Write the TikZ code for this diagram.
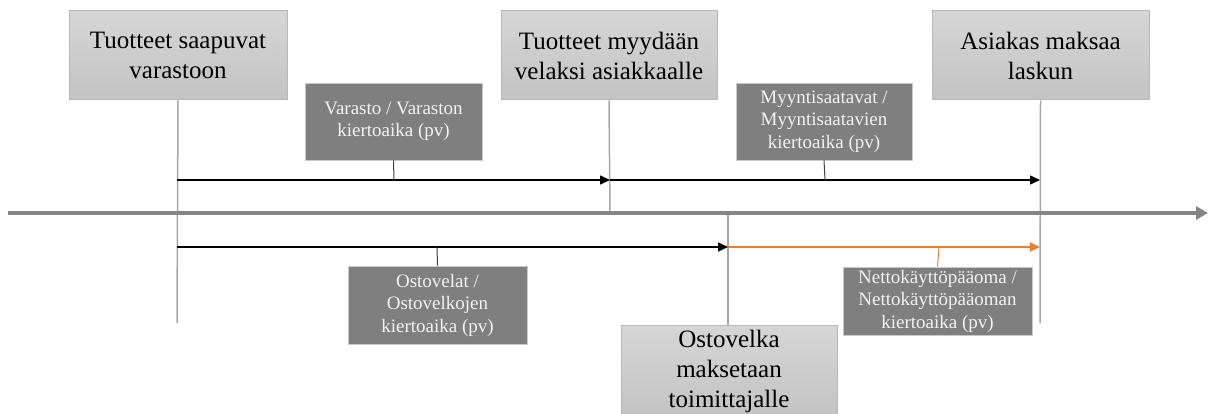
\documentclass[tikz,border=0pt]{standalone}
\usepackage{fontspec}
\setmainfont{Liberation Serif}
\usetikzlibrary{arrows.meta}
\definecolor{boxtop}{HTML}{D6D6D6}
\definecolor{boxbot}{HTML}{C3C3C3}
\definecolor{boxedge}{HTML}{B8B8B8}
\definecolor{darkbox}{HTML}{7F7F7F}
\definecolor{darkedge}{HTML}{C8C8C8}
\definecolor{vline}{HTML}{A6A6A6}
\definecolor{axisgray}{HTML}{858585}
\definecolor{orng}{HTML}{ED7D31}
\definecolor{lighttext}{HTML}{F2F2F2}
\tikzset{
  eventbox/.style={draw=boxedge, line width=1pt, top color=boxtop, bottom color=boxbot,
    inner sep=0pt, align=center, font=\fontsize{25}{30}\selectfont, text=black},
  ratiobox/.style={draw=darkedge, line width=0.8pt, fill=darkbox,
    inner sep=0pt, align=center, font=\fontsize{19}{22.5}\selectfont, text=lighttext},
  guide/.style={draw=vline, line width=1.5pt},
  period/.style={draw=black, line width=1.5pt, -{Triangle[length=10pt,width=9pt]}},
  periodorange/.style={draw=orng, line width=2.2pt, -{Triangle[length=10pt,width=9pt]}},
  tick/.style={draw=black!75, line width=1pt},
  tickorange/.style={draw=orng, line width=1pt},
  timeaxis/.style={draw=axisgray, line width=4pt, -{Triangle[length=12pt,width=13pt]}}
}
\begin{document}
\begin{tikzpicture}[x=1pt,y=-1pt]
\useasboundingbox (0,0) rectangle (1208,414);
\clip (0,0) rectangle (1208,414);

% event boxes
\node[eventbox, minimum width=218pt, minimum height=89pt] (A) at (178,55.5) {Tuotteet saapuvat\\varastoon};
\node[eventbox, minimum width=216pt, minimum height=89pt] (B) at (609,55.5) {Tuotteet myydään\\velaksi asiakkaalle};
\node[eventbox, minimum width=217pt, minimum height=89pt] (C) at (1040.5,55.5) {Asiakas maksaa\\laskun};

% coordinates
\coordinate (aBot) at (177,323);
\coordinate (bAx) at (610,213);
\coordinate (cBot) at (1040,323);
\coordinate (dAx) at (728,213);
\coordinate (a1) at (177,180);
\coordinate (b1) at (610,180);
\coordinate (c1) at (1040,180);
\coordinate (a2) at (177,247);
\coordinate (d2) at (728,247);
\coordinate (c2) at (1040,247);
\coordinate (axL) at (8,213);
\coordinate (axR) at (1208,213);
\coordinate (v1) at (394,180);
\coordinate (m1) at (825,180);
\coordinate (o2) at (437,247);
\coordinate (n2) at (939,247);

% guide lines
\draw[guide] (A.south) -- (aBot);
\draw[guide] (B.south) -- (bAx);
\draw[guide] (C.south) -- (cBot);
\draw[guide] (dAx) -- (728,325);

% time axis
\draw[timeaxis] (axL) -- (axR);

% periods
\draw[period] (a1) -- (b1);
\draw[period] (b1) -- (c1);
\draw[period] (a2) -- (d2);
\draw[periodorange] (d2) -- (c2);

% ratio boxes
\node[ratiobox, minimum width=177pt, minimum height=77pt] (V) at (393.5,121.5) {Varasto / Varaston\\kiertoaika (pv)};
\node[ratiobox, minimum width=176pt, minimum height=77pt] (M) at (824,121.5) {Myyntisaatavat /\\Myyntisaatavien\\kiertoaika (pv)};
\node[ratiobox, minimum width=179pt, minimum height=78pt] (O) at (437.5,305) {Ostovelat /\\Ostovelkojen\\kiertoaika (pv)};
\node[ratiobox, minimum width=189pt, minimum height=68pt] (N) at (937.5,301) {Nettokäyttöpääoma /\\Nettokäyttöpääoman\\kiertoaika (pv)};

\draw[tick] (V.south) -- (v1);
\draw[tick] (M.south) -- (m1);
\draw[tick] (O.north) -- (o2);
\draw[tickorange] (N.north) -- (n2);

% bottom event box
\node[eventbox, minimum width=216pt, minimum height=92pt, anchor=north] (D) at (729,325) {Ostovelka\\maksetaan\\toimittajalle};
\end{tikzpicture}
\end{document}
